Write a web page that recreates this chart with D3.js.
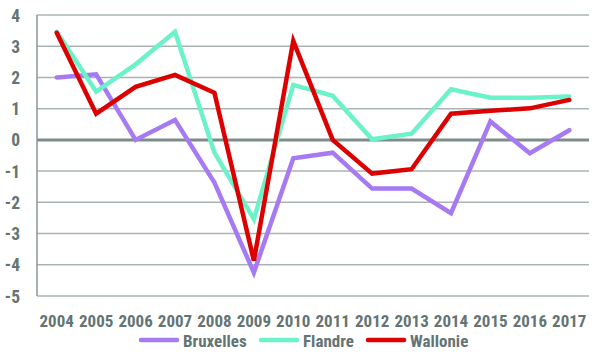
<!DOCTYPE html>
<html><head><meta charset="utf-8">
<script src="https://cdn.jsdelivr.net/npm/d3@7"></script>
<style>
body{margin:0;background:#fff;}
text{font-family:"Liberation Sans Narrow","Roboto Condensed","Liberation Sans",sans-serif;font-weight:bold;fill:#647474;}
</style></head>
<body>
<svg id="c" width="612" height="358"></svg>
<script>
const years = ["2004","2005","2006","2007","2008","2009","2010","2011","2012","2013","2014","2015","2016","2017"];
const bruxelles = [2.0, 2.1, 0.0, 0.64, -1.37, -4.25, -0.59, -0.41, -1.56, -1.56, -2.35, 0.59, -0.43, 0.31];
const flandre = [3.46, 1.55, 2.42, 3.46, -0.41, -2.54, 1.76, 1.41, 0.02, 0.2, 1.62, 1.35, 1.35, 1.39];
const wallonie = [3.43, 0.84, 1.7, 2.08, 1.51, -3.87, 3.17, 0.0, -1.08, -0.94, 0.84, 0.93, 1.01, 1.28];
const yTicks = [4,3,2,1,0,-1,-2,-3,-4,-5];
const seriesNames = ["Bruxelles","Flandre","Wallonie"];
const seriesColors = ["#a57af2","#6cf2c9","#dd0000"];

(function(){
const svg = d3.select("#c");
const pl = 37, pr = 589, pt = 15, pb = 296;
const x = d3.scaleBand().domain(years).range([pl,pr]);
const y = d3.scaleLinear().domain([-5,4]).range([pb,pt]);

svg.append("g").selectAll("line").data(yTicks).join("line")
  .attr("x1",pl).attr("x2",pr)
  .attr("y1",d=>y(d)).attr("y2",d=>y(d))
  .attr("stroke",d=>d===0?"#7d8b8b":"#aab3b3")
  .attr("stroke-width",d=>d===0?3:1.5);
svg.append("line").attr("x1",pl).attr("x2",pl).attr("y1",pt).attr("y2",pb)
  .attr("stroke","#8a9696").attr("stroke-width",1.5);

svg.append("g").selectAll("text").data(yTicks).join("text")
  .attr("x",20).attr("y",d=>y(d)+6.5).attr("text-anchor","end")
  .attr("font-size",17.5).text(d=>d);

svg.append("g").selectAll("text").data(years).join("text")
  .attr("x",d=>x(d)+x.bandwidth()/2).attr("y",327).attr("text-anchor","middle")
  .attr("font-size",17).text(d=>d);

const line = d3.line().x((d,i)=>x(years[i])+x.bandwidth()/2).y(d=>y(d));
[bruxelles,flandre,wallonie].forEach((s,k)=>{
  svg.append("path").datum(s).attr("d",line).attr("fill","none")
    .attr("stroke",seriesColors[k]).attr("stroke-width",4.5)
    .attr("stroke-linejoin","miter").attr("stroke-linecap","round");
});

const legX = [141,261,368];
seriesNames.forEach((n,k)=>{
  svg.append("line").attr("x1",legX[k]).attr("x2",legX[k]+36).attr("y1",340).attr("y2",340)
    .attr("stroke",seriesColors[k]).attr("stroke-width",4.5).attr("stroke-linecap","round");
  svg.append("text").attr("x",legX[k]+42).attr("y",346.5).attr("font-size",17).text(n);
});
})();
</script>
</body></html>
